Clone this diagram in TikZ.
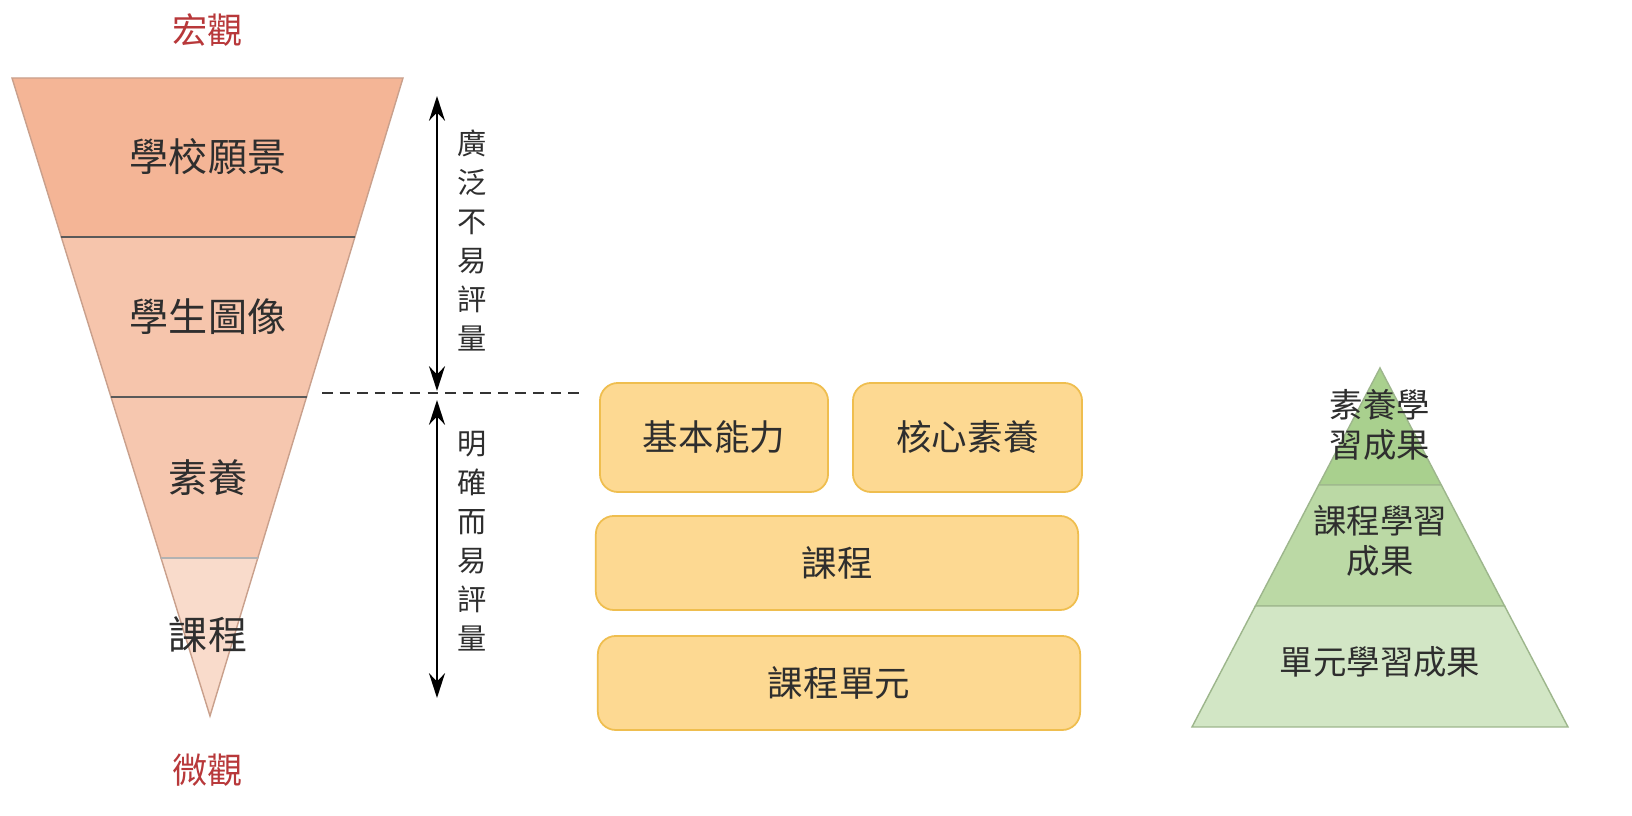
\documentclass[tikz,border=0pt]{standalone}
\usepackage{fontspec}
\setmainfont{Noto Sans CJK TC}
\usetikzlibrary{arrows.meta}
\definecolor{redtxt}{HTML}{B8383A}
\definecolor{txt}{HTML}{2E2E2E}
\definecolor{ba}{HTML}{F4B596}
\definecolor{bb}{HTML}{F6C5AC}
\definecolor{bc}{HTML}{F6C7AF}
\definecolor{bd}{HTML}{F9DBCB}
\definecolor{bline}{HTML}{C9A08C}
\definecolor{ga}{HTML}{A9D08E}
\definecolor{gb}{HTML}{BBD9A5}
\definecolor{gc}{HTML}{D2E6C5}
\definecolor{gline}{HTML}{9DB68C}
\definecolor{yfill}{HTML}{FDD992}
\definecolor{yline}{HTML}{EFBE4F}
\tikzset{
  bandlbl/.style={text=txt,font=\fontsize{11.1}{13}\selectfont,inner sep=0pt},
  redlbl/.style={text=redtxt,font=\fontsize{10}{12}\selectfont,inner sep=0pt},
  vlbl/.style={text=txt,font=\fontsize{8.3}{11.1}\selectfont,align=center,inner sep=0pt},
  ybox/.style={draw=yline,fill=yfill,line width=0.5pt,rounded corners=0.18cm,text=txt,
    font=\fontsize{10.1}{12}\selectfont,inner sep=0pt},
  pyrlbl/.style={text=txt,font=\fontsize{9.5}{11.2}\selectfont,align=center,inner sep=0pt},
  band/.style={draw=bline,line width=0.4pt},
  gband/.style={draw=gline,line width=0.4pt},
  dimarrow/.style={{Stealth[length=7pt,width=4.5pt]}-{Stealth[length=7pt,width=4.5pt]},line width=0.8pt,black}
}
\begin{document}
\begin{tikzpicture}[x=0.01cm,y=-0.01cm]
\useasboundingbox[fill=white] (0,0) rectangle (1632,816);

% inverted triangle
\filldraw[band,fill=ba] (12,78) -- (403,78) -- (354.9,237) -- (61.3,237) -- cycle;
\filldraw[band,fill=bb] (61.3,237) -- (354.9,237) -- (306.5,397) -- (111,397) -- cycle;
\filldraw[band,fill=bc] (111,397) -- (306.5,397) -- (257.8,558) -- (161,558) -- cycle;
\filldraw[band,fill=bd] (161,558) -- (257.8,558) -- (210,716) -- cycle;
\draw[draw=gray!70!black,line width=0.5pt] (61.3,237) -- (354.9,237);
\draw[draw=gray!70!black,line width=0.5pt] (111,397) -- (306.5,397);
\draw[draw=gray!60,line width=0.4pt] (161,558) -- (257.8,558);

\node[redlbl] (macro) at (208,30) {宏觀};
\node[bandlbl] (vision) at (208,157) {學校願景};
\node[bandlbl] (portrait) at (208,317) {學生圖像};
\node[bandlbl] (literacy) at (208,478) {素養};
\node[bandlbl] (course) at (208,635) {課程};
\node[redlbl] (micro) at (208,770) {微觀};

% dashed divider
\coordinate (dashL) at (322,393);
\coordinate (dashR) at (582,393);
\draw[dashed,line width=0.5pt,black!80,dash pattern=on 3pt off 2pt] (dashL) -- (dashR);

% arrows
\coordinate (a1t) at (437,96);
\coordinate (a1b) at (437,391);
\coordinate (a2t) at (437,400);
\coordinate (a2b) at (437,698);
\draw[dimarrow] (a1t) -- (a1b);
\draw[dimarrow] (a2t) -- (a2b);

\node[vlbl] (broad) at (472,240.5) {廣\\泛\\不\\易\\評\\量};
\node[vlbl] (clear) at (472,541) {明\\確\\而\\易\\評\\量};

% yellow boxes
\node[ybox,minimum width=2.28cm,minimum height=1.09cm] (basic) at (714,437.5) {基本能力};
\node[ybox,minimum width=2.29cm,minimum height=1.09cm] (core) at (967.5,437.5) {核心素養};
\node[ybox,minimum width=4.82cm,minimum height=0.94cm] (curr) at (837,563) {課程};
\node[ybox,minimum width=4.82cm,minimum height=0.94cm] (unit) at (839,683) {課程單元};

% green pyramid
\filldraw[gband,fill=ga] (1380,368) -- (1441.3,485) -- (1318.7,485) -- cycle;
\filldraw[gband,fill=gb] (1318.7,485) -- (1441.3,485) -- (1504.6,606) -- (1255.4,606) -- cycle;
\filldraw[gband,fill=gc] (1255.4,606) -- (1504.6,606) -- (1568,727) -- (1192,727) -- cycle;

\node[pyrlbl] (p1) at (1380,425) {素養學\\習成果};
\node[pyrlbl] (p2) at (1380,541) {課程學習\\成果};
\node[pyrlbl] (p3) at (1380,662) {單元學習成果};
\end{tikzpicture}
\end{document}
